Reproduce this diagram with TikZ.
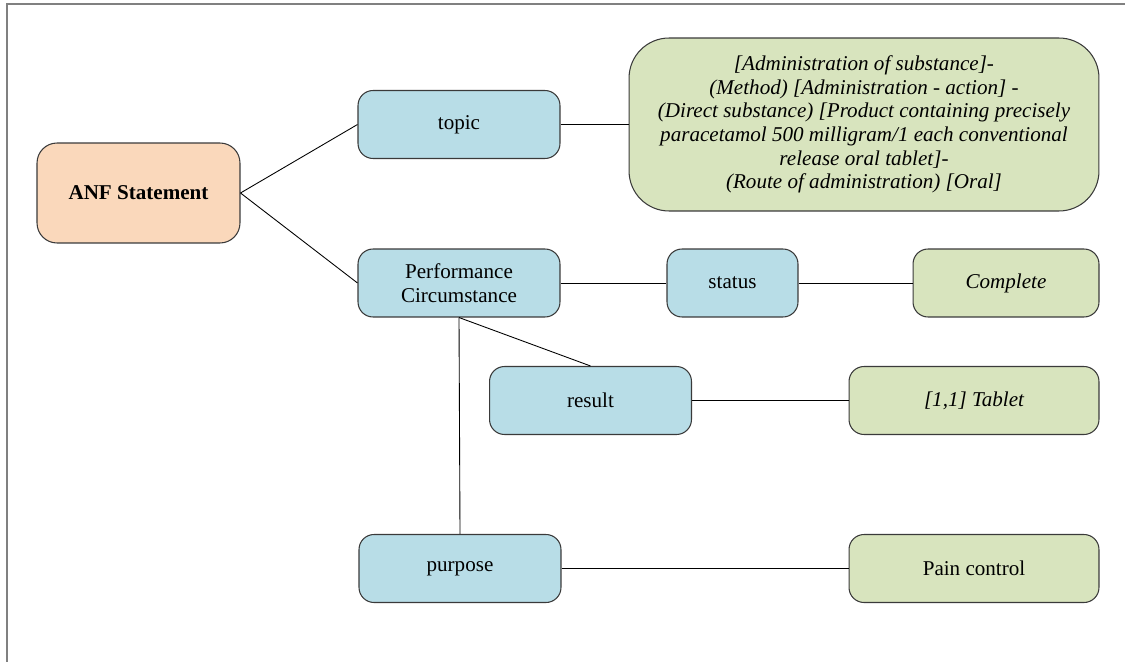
\documentclass[tikz,border=0pt]{standalone}
\usepackage{fontspec}
\setmainfont{LiberationSerif}[Extension=.ttf,UprightFont=*-Regular,BoldFont=*-Bold,ItalicFont=*-Italic,BoldItalicFont=*-BoldItalic]
\usetikzlibrary{positioning}
\definecolor{peach}{HTML}{FAD8BB}
\definecolor{lblue}{HTML}{B8DDE7}
\definecolor{lgreen}{HTML}{D8E4BE}
\definecolor{edgegray}{HTML}{3A3A3A}
\tikzset{
  box/.style={draw=edgegray,line width=0.6pt,rounded corners=0.3cm,align=center,
    font=\fontsize{12}{13.5}\selectfont},
  anfbox/.style={box,fill=peach,minimum width=4.06cm,minimum height=2cm,
    rounded corners=0.4cm,font=\fontsize{12}{13.5}\selectfont\bfseries},
  blubox/.style={box,fill=lblue,minimum width=4.04cm,minimum height=1.36cm},
  grnbox/.style={box,fill=lgreen,minimum height=1.36cm,font=\fontsize{12}{13.5}\selectfont\itshape},
  link/.style={draw=black,line width=0.5pt}
}

\begin{document}
\begin{tikzpicture}[x=0.02cm,y=-0.02cm]
    \useasboundingbox (0,0) rectangle (1125,662);
    \draw[gray,line width=0.8pt] (7,662) -- (7,4) -- (1125,4);
    % left part
    \node[anfbox] (anf) at (138.5,193) {ANF Statement};
    \node[blubox] (topic) at (459,124.5) {topic};
    \node[blubox] (perf) at (459,283) {Performance\\Circumstance};
    \node[blubox,minimum width=2.62cm] (status) at (732.5,283) {status};
    \node[blubox] (result) at (590.5,400.5) {result};
    \node[blubox] (purpose) at (460,568.5) {purpose};
    % values
    \node[grnbox,minimum width=9.4cm,minimum height=3.46cm,rounded corners=0.8cm] (subst) at (864,124.5)
      {[Administration of substance]-\\(Method) [Administration - action] -\\(Direct substance) [Product containing precisely\\paracetamol 500 milligram/1 each conventional\\release oral tablet]-\\(Route of administration) [Oral]};
    \node[grnbox,minimum width=3.72cm] (complete) at (1006,283) {Complete};
    \node[grnbox,minimum width=5cm] (tablet) at (974,400.5) {[1,1] Tablet};
    \node[grnbox,minimum width=5cm,font=\fontsize{12}{13.5}\selectfont] (pain) at (974,568.5) {Pain control};
    \path[link] (anf.east) edge (topic.west)
                (anf.east) edge (perf.west)
                (topic.east) edge (subst.west)
                (perf.east) edge (status.west)
                (status.east) edge (complete.west)
                (perf.south) edge (result.north)
                (perf.south) edge (purpose.north)
                (result.east) edge (tablet.west)
                (purpose.east) edge (pain.west);
\end{tikzpicture}
\end{document}
